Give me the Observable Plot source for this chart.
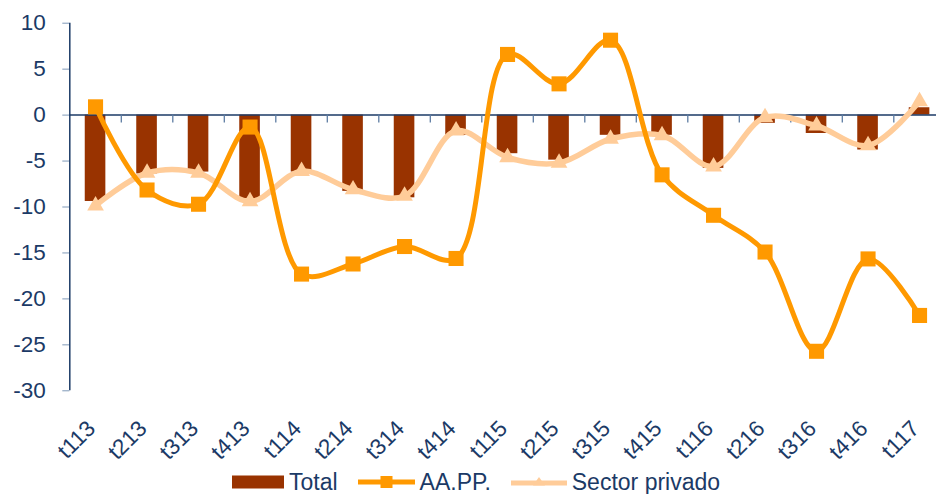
<!DOCTYPE html>
<html>
<head>
<meta charset="utf-8">
<script src="https://cdn.jsdelivr.net/npm/d3@7"></script>
<script src="https://cdn.jsdelivr.net/npm/@observablehq/plot@0.6"></script>
<style>
  html, body { margin: 0; padding: 0; background: #fff; overflow: hidden; width: 936px; height: 494px; }
  #chart svg { display: block; overflow: visible; }
  #legend { display: flex; align-items: center; height: 32px; margin-left: 232px;
    font-family: "Liberation Sans", Arial, sans-serif; font-size: 23px; color: #1b3a66; }
  #legend .item { display: flex; align-items: center; }
  #legend svg { display: block; }
</style>
</head>
<body>
<div id="chart"></div>
<div id="legend"></div>
<script>
const categories = ["t113","t213","t313","t413","t114","t214","t314","t414","t115","t215","t315","t415","t116","t216","t316","t416","t117"];
const total   = [-9.4, -6.4, -6.2, -9.1, -6.2, -8.3, -9.0, -2.2, -4.2, -4.9, -2.2, -2.2, -5.8, -0.9, -2.0, -3.8, 0.8];
const aapp    = [0.9, -8.15, -9.7, -1.3, -17.3, -16.2, -14.3, -15.6, 6.6, 3.4, 8.15, -6.5, -10.9, -14.9, -25.7, -15.65, -21.8];
const privado = [-9.85, -6.3, -6.3, -9.4, -6.1, -8.1, -8.8, -1.7, -4.6, -5.2, -2.6, -2.2, -5.6, -0.25, -1.16, -3.3, 1.5];
const yTicks  = [-30, -25, -20, -15, -10, -5, 0, 5, 10];
const seriesNames = ["Total", "AA.PP.", "Sector privado"];

const data = categories.map((c, i) => ({cat: c, total: total[i], aapp: aapp[i], privado: privado[i]}));

const navy = "#1b3a66";
const cTotal = "#993300", cAapp = "#ff9900", cPriv = "#ffcc99";
const font = "Liberation Sans, Arial, sans-serif";

const chart = Plot.plot({
  width: 936,
  height: 466,
  marginTop: 22.7,
  marginBottom: 75.7,
  marginLeft: 69.3,
  marginRight: -8.8,
  style: {fontFamily: font, fontSize: "22.5px", color: navy, background: "#fff"},
  x: {domain: categories, paddingInner: 0.6, paddingOuter: 0.3, round: false, axis: null},
  y: {domain: [-30, 10], axis: null},
  marks: [
    Plot.barY(data, {x: "cat", y: "total", fill: cTotal}),
    Plot.ruleY([0], {stroke: navy, strokeWidth: 1.5}),
    Plot.ruleX(categories.slice(1), {x: d => d, y1: 0, y2: -0.85, dx: -25.75, stroke: "#5d7ca3", strokeWidth: 1.3}),
    Plot.axisY({ticks: yTicks, tickSize: 7, tickPadding: 17, label: null, stroke: "#7f99b8", tickFormat: d => String(d), fontSize: 22.5, fill: navy}),
    Plot.ruleX([categories[0]], {x: d => d, y1: -30, y2: 10, dx: -25.75, stroke: navy, strokeWidth: 1.5}),
    Plot.line(data, {x: "cat", y: "privado", stroke: cPriv, strokeWidth: 5.5, curve: "catmull-rom"}),
    Plot.dot(data, {x: "cat", y: "privado", symbol: "triangle", r: 6.2, fill: cPriv}),
    Plot.line(data, {x: "cat", y: "aapp", stroke: cAapp, strokeWidth: 5, curve: "catmull-rom"}),
    Plot.dot(data, {x: "cat", y: "aapp", symbol: "square", r: 8.5, fill: cAapp}),
    Plot.text(categories, {x: d => d, text: d => d, frameAnchor: "bottom", dy: 34, dx: -4, rotate: -45, textAnchor: "end", lineAnchor: "middle", fontSize: 22.5, fill: navy})
  ]
});
document.getElementById("chart").appendChild(chart);

// Legend
const legend = document.getElementById("legend");
function item(name, swatch, gapAfter) {
  const el = document.createElement("div");
  el.className = "item";
  el.style.marginRight = gapAfter + "px";
  el.innerHTML = swatch + `<span style="margin-left:5px">${name}</span>`;
  legend.appendChild(el);
}
item(seriesNames[0], `<svg width="52" height="14"><rect x="0" y="0.5" width="52" height="13" fill="${cTotal}"/></svg>`, 20);
item(seriesNames[1], `<svg width="57" height="14"><line x1="0" x2="57" y1="7" y2="7" stroke="${cAapp}" stroke-width="5" stroke-linecap="round"/><rect x="22.5" y="1" width="12" height="12" fill="${cAapp}"/></svg>`, 20);
item(seriesNames[2], `<svg width="56" height="14"><line x1="0" x2="56" y1="8" y2="8" stroke="${cPriv}" stroke-width="5" stroke-linecap="round"/><path d="M28,2 L34,10.5 L22,10.5 Z" fill="${cPriv}"/></svg>`, 0);
</script>
</body>
</html>
